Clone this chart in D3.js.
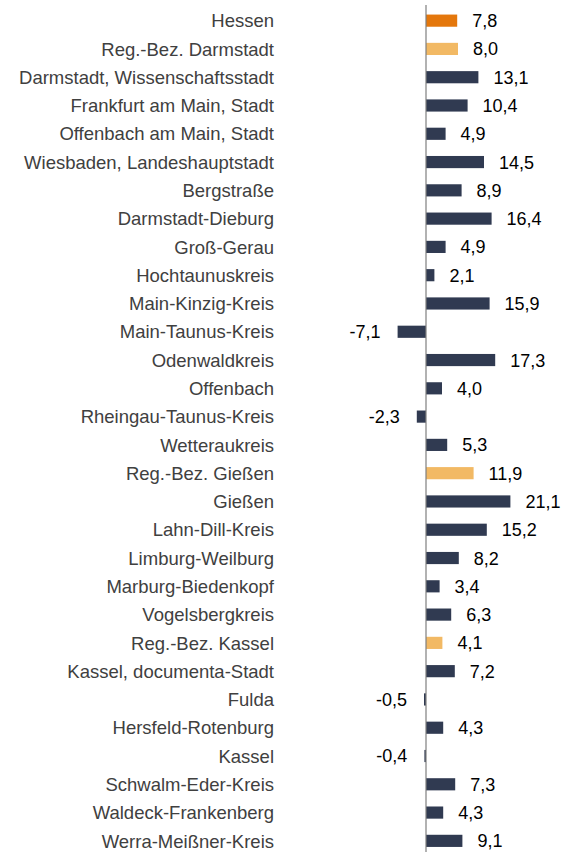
<!DOCTYPE html>
<html>
<head>
<meta charset="utf-8">
<script src="https://cdn.jsdelivr.net/npm/d3@7"></script>
<style>
  html, body { margin: 0; padding: 0; background: #fff; }
  svg { display: block; }
</style>
</head>
<body>
<svg id="chart" width="563" height="852"></svg>
<script>
// Kreise und Regierungsbezirke in Hessen, Veränderung in %
const categories = [
  "Hessen", "Reg.-Bez. Darmstadt", "Darmstadt, Wissenschaftsstadt",
  "Frankfurt am Main, Stadt", "Offenbach am Main, Stadt",
  "Wiesbaden, Landeshauptstadt", "Bergstraße", "Darmstadt-Dieburg",
  "Groß-Gerau", "Hochtaunuskreis", "Main-Kinzig-Kreis", "Main-Taunus-Kreis",
  "Odenwaldkreis", "Offenbach", "Rheingau-Taunus-Kreis", "Wetteraukreis",
  "Reg.-Bez. Gießen", "Gießen", "Lahn-Dill-Kreis", "Limburg-Weilburg",
  "Marburg-Biedenkopf", "Vogelsbergkreis", "Reg.-Bez. Kassel",
  "Kassel, documenta-Stadt", "Fulda", "Hersfeld-Rotenburg", "Kassel",
  "Schwalm-Eder-Kreis", "Waldeck-Frankenberg", "Werra-Meißner-Kreis"
];
const values = [
  7.8, 8.0, 13.1, 10.4, 4.9, 14.5, 8.9, 16.4, 4.9, 2.1, 15.9, -7.1,
  17.3, 4.0, -2.3, 5.3, 11.9, 21.1, 15.2, 8.2, 3.4, 6.3, 4.1,
  7.2, -0.5, 4.3, -0.4, 7.3, 4.3, 9.1
];
// Ebene: land, bezirk, kreis
const levels = [
  "land", "bezirk", "kreis", "kreis", "kreis", "kreis", "kreis", "kreis",
  "kreis", "kreis", "kreis", "kreis", "kreis", "kreis", "kreis", "kreis",
  "bezirk", "kreis", "kreis", "kreis", "kreis", "kreis", "bezirk",
  "kreis", "kreis", "kreis", "kreis", "kreis", "kreis", "kreis"
];
const xDomain = [-10, 30];

const colors = { land: "#e4770c", bezirk: "#f2b964", kreis: "#303a51" };

const data = categories.map((c, i) => ({ name: c, value: values[i], level: levels[i] }));

const svg = d3.select("#chart");

const x = d3.scaleLinear().domain(xDomain).range([386, 546]);
const y = d3.scaleBand().domain(categories).range([6.5, 855]).paddingInner(0).paddingOuter(0);
const barH = y.bandwidth() * 0.43;

const fmt = v => d3.format(".1f")(v).replace(".", ",").replace("−", "-");

// Balken
svg.append("g")
  .selectAll("rect")
  .data(data)
  .join("rect")
  .attr("x", d => x(Math.min(0, d.value)))
  .attr("width", d => Math.abs(x(d.value) - x(0)))
  .attr("y", d => y(d.name) + (y.bandwidth() - barH) / 2)
  .attr("height", barH)
  .attr("fill", d => colors[d.level]);

// Nulllinie mit Kategorien
const axis = d3.axisLeft(y).tickSize(0).tickPadding(0);
const gAxis = svg.append("g")
  .attr("transform", `translate(${x(0)},0)`)
  .call(axis);
gAxis.select(".domain")
  .attr("d", `M0,5V852`)
  .attr("stroke", "#7f7f7f")
  .attr("stroke-width", 1.2);
gAxis.selectAll(".tick text")
  .attr("x", 274 - x(0))
  .attr("text-anchor", "end")
  .attr("dy", "0.36em")
  .attr("fill", "#404040")
  .style("font-family", "'Liberation Sans', Arial, sans-serif")
  .style("font-size", "18.5px");

// Werte
svg.append("g")
  .selectAll("text")
  .data(data)
  .join("text")
  .attr("x", d => d.value >= 0 ? x(d.value) + 15 : x(d.value) - 17)
  .attr("y", d => y(d.name) + y.bandwidth() / 2)
  .attr("dy", "0.36em")
  .attr("text-anchor", d => d.value >= 0 ? "start" : "end")
  .attr("fill", "#000")
  .style("font-family", "'Liberation Sans', Arial, sans-serif")
  .style("font-size", "18px")
  .text(d => fmt(d.value));
</script>
</body>
</html>
